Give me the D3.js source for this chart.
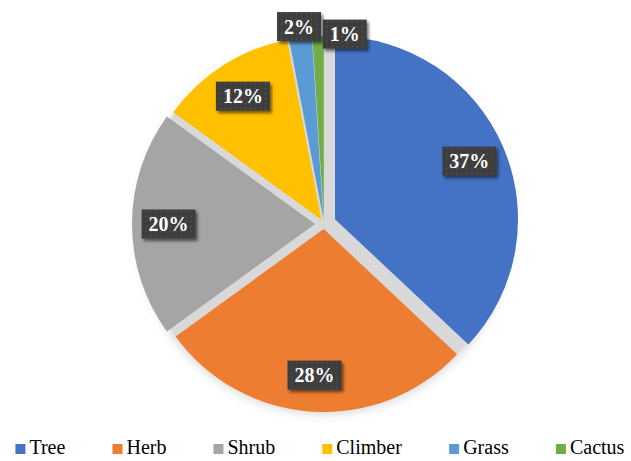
<!DOCTYPE html>
<html>
<head>
<meta charset="utf-8">
<script src="https://cdn.jsdelivr.net/npm/d3@7"></script>
</head>
<body style="margin:0">
<svg id="chart" width="631" height="461"></svg>
<script>
// Share of plant growth forms (%)
const categories = ["Tree", "Herb", "Shrub", "Climber", "Grass", "Cactus"];
const shares = [37, 28, 20, 12, 2, 1];
const colors = ["#4472C4", "#ED7D31", "#A5A5A5", "#FFC000", "#5B9BD5", "#70AD47"];

// Layout and style
const cx = 324, cy = 224, R = 183;
const explodeDefault = 5;
const explodeBy = { Tree: 12, Shrub: 9 };
const labelInside = 0.8;            // fraction of radius for inside labels
const outsideRadius = R + 11;       // radius for labels of thin slices
const outsideNudge = { Grass: [0, 0], Cactus: [27, 9] };
const fontFamily = "Times New Roman";

const data = categories.map((name, i) => ({ name, value: shares[i], color: colors[i] }));

const svg = d3.select("#chart");
const defs = svg.append("defs");

// soft halo around the pie
const halo = defs.append("filter").attr("id", "halo")
  .attr("x", "-20%").attr("y", "-20%").attr("width", "140%").attr("height", "140%");
halo.append("feGaussianBlur").attr("stdDeviation", 5);

// drop shadow for the label boxes
const boxShadow = defs.append("filter").attr("id", "boxShadow")
  .attr("x", "-30%").attr("y", "-30%").attr("width", "160%").attr("height", "160%");
boxShadow.append("feDropShadow").attr("dx", 2).attr("dy", 2.5)
  .attr("stdDeviation", 1.6).attr("flood-color", "#000").attr("flood-opacity", 0.55);

// dotted texture for the label boxes
const dots = defs.append("pattern").attr("id", "dots")
  .attr("patternUnits", "userSpaceOnUse").attr("width", 5).attr("height", 5);
dots.append("rect").attr("width", 5).attr("height", 5).attr("fill", "#3d3d3d");
dots.append("circle").attr("cx", 2.5).attr("cy", 2.5).attr("r", 0.7).attr("fill", "#5c5c5c");

// light texture for the shadow under the slices
const grain = defs.append("pattern").attr("id", "grain")
  .attr("patternUnits", "userSpaceOnUse").attr("width", 4).attr("height", 4);
grain.append("rect").attr("width", 4).attr("height", 4).attr("fill", "#d8d8d8");
grain.append("circle").attr("cx", 2).attr("cy", 2).attr("r", 0.6).attr("fill", "#e6e6e6");

const pie = d3.pie().sort(null).value(d => d.value);
const arcs = pie(data);
const arc = d3.arc().innerRadius(0).outerRadius(R);

const mid = d => (d.startAngle + d.endAngle) / 2;
const offset = d => {
  const e = explodeBy[d.data.name] ?? explodeDefault;
  const a = mid(d);
  return [e * Math.sin(a), -e * Math.cos(a)];
};

const g = svg.append("g").attr("transform", `translate(${cx},${cy})`);

// shadow layer beneath the slices
g.append("circle").attr("r", R + 4).attr("cy", 3)
  .attr("fill", "#c8c8c8").attr("opacity", 0.7).attr("filter", "url(#halo)");
g.append("circle").attr("r", R + 3).attr("fill", "url(#grain)");

// slices
g.selectAll("path.slice")
  .data(arcs)
  .join("path")
  .attr("class", "slice")
  .attr("d", arc)
  .attr("fill", d => d.data.color)
  .attr("transform", d => `translate(${offset(d)})`);

// data labels
const fmt = v => `${v}%`;
const lab = g.selectAll("g.lab")
  .data(arcs)
  .join("g")
  .attr("class", "lab")
  .attr("transform", d => {
    const [ox, oy] = offset(d);
    const a = mid(d);
    const nudge = outsideNudge[d.data.name];
    const rr = nudge ? outsideRadius : R * labelInside;
    const [nx, ny] = nudge || [0, 0];
    return `translate(${ox + rr * Math.sin(a) + nx},${oy - rr * Math.cos(a) + ny})`;
  });

const boxes = lab.append("rect")
  .attr("fill", "url(#dots)")
  .attr("filter", "url(#boxShadow)");
const texts = lab.append("text")
  .attr("text-anchor", "middle")
  .attr("y", 7)
  .attr("fill", "#fff")
  .attr("font-family", fontFamily)
  .attr("font-weight", "bold")
  .attr("font-size", 20)
  .text(d => fmt(d.data.value));

// legend
const items = svg.append("g").selectAll("g.item")
  .data(data)
  .join("g")
  .attr("class", "item");
items.append("rect")
  .attr("y", 444).attr("width", 10).attr("height", 10)
  .attr("fill", d => d.color);
const legendTexts = items.append("text")
  .attr("x", 14).attr("y", 453.5)
  .attr("font-family", fontFamily)
  .attr("font-size", 20)
  .attr("fill", "#000")
  .text(d => d.name);

// size label boxes and spread legend items from the rendered text
function layout() {
  texts.each(function () {
    const w = this.getBBox().width + 14;
    d3.select(this.parentNode).select("rect")
      .attr("x", -w / 2).attr("y", -14.5).attr("width", w).attr("height", 29);
  });
  const widths = [];
  legendTexts.each(function () { widths.push(this.getBBox().width); });
  const starts = [];
  let xPos = 0;
  widths.forEach(w => { starts.push(xPos); xPos += 14 + w + 47; });
  const left = 320 - (xPos - 47) / 2;
  items.attr("transform", (d, i) => `translate(${left + starts[i]},0)`);
}
requestAnimationFrame(layout);
</script>
</body>
</html>
